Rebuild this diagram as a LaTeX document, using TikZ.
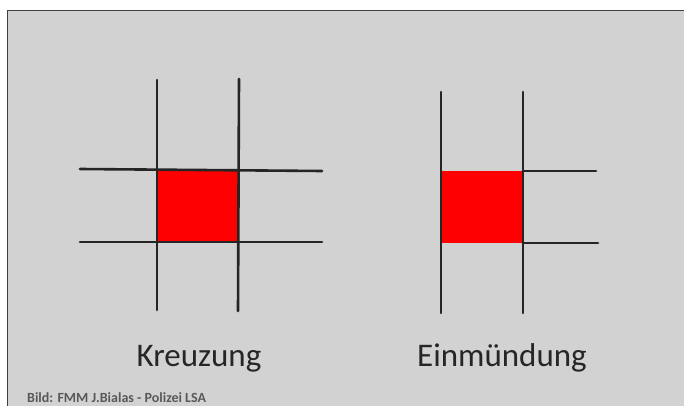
\documentclass[tikz,border=0pt]{standalone}
\usepackage{fontspec}
\setmainfont{Carlito}
\definecolor{panel}{HTML}{D2D2D2}
\definecolor{road}{HTML}{252525}
\definecolor{frame}{HTML}{404040}
\begin{document}
\begin{tikzpicture}[x=1pt,y=-1pt,
  roadline/.style={draw=road,line width=2.6pt,line cap=round},
  area/.style={fill=red},
  caption/.style={font=\fontsize{33}{36}\selectfont,text=black!85,inner sep=0pt,anchor=base},
  credit/.style={font=\fontsize{14}{16}\selectfont\bfseries,text=black!65,inner sep=0pt,anchor=base west}]
\useasboundingbox (0,0) rectangle (684,406);
\fill[white] (0,0) rectangle (684,406);
\fill[panel] (7,10) rectangle (684,406);
\draw[frame,line width=1.6pt] (7.5,406) -- (7.5,10.5) -- (684,10.5);
% Kreuzung
\fill[area] (157,169) rectangle (239,242);
\draw[roadline] (157,80) -- (157,310);
\draw[roadline] (239,79) -- (238,311);
\draw[roadline] (80,169) -- (322,171);
\draw[roadline] (80,242) -- (322,242);
% Einmuendung
\fill[area] (441,171) rectangle (523,243);
\draw[roadline] (441,92) -- (441,313);
\draw[roadline] (523,92) -- (523,313);
\draw[roadline] (523,171) -- (596,171);
\draw[roadline] (523,243) -- (598,243);
\node[caption] (k) at (199,366) {Kreuzung};
\node[caption] (e) at (502,366) {Einmündung};
\node[credit] (c) at (27,402) {Bild: FMM J.Bialas - Polizei LSA};
\end{tikzpicture}
\end{document}
